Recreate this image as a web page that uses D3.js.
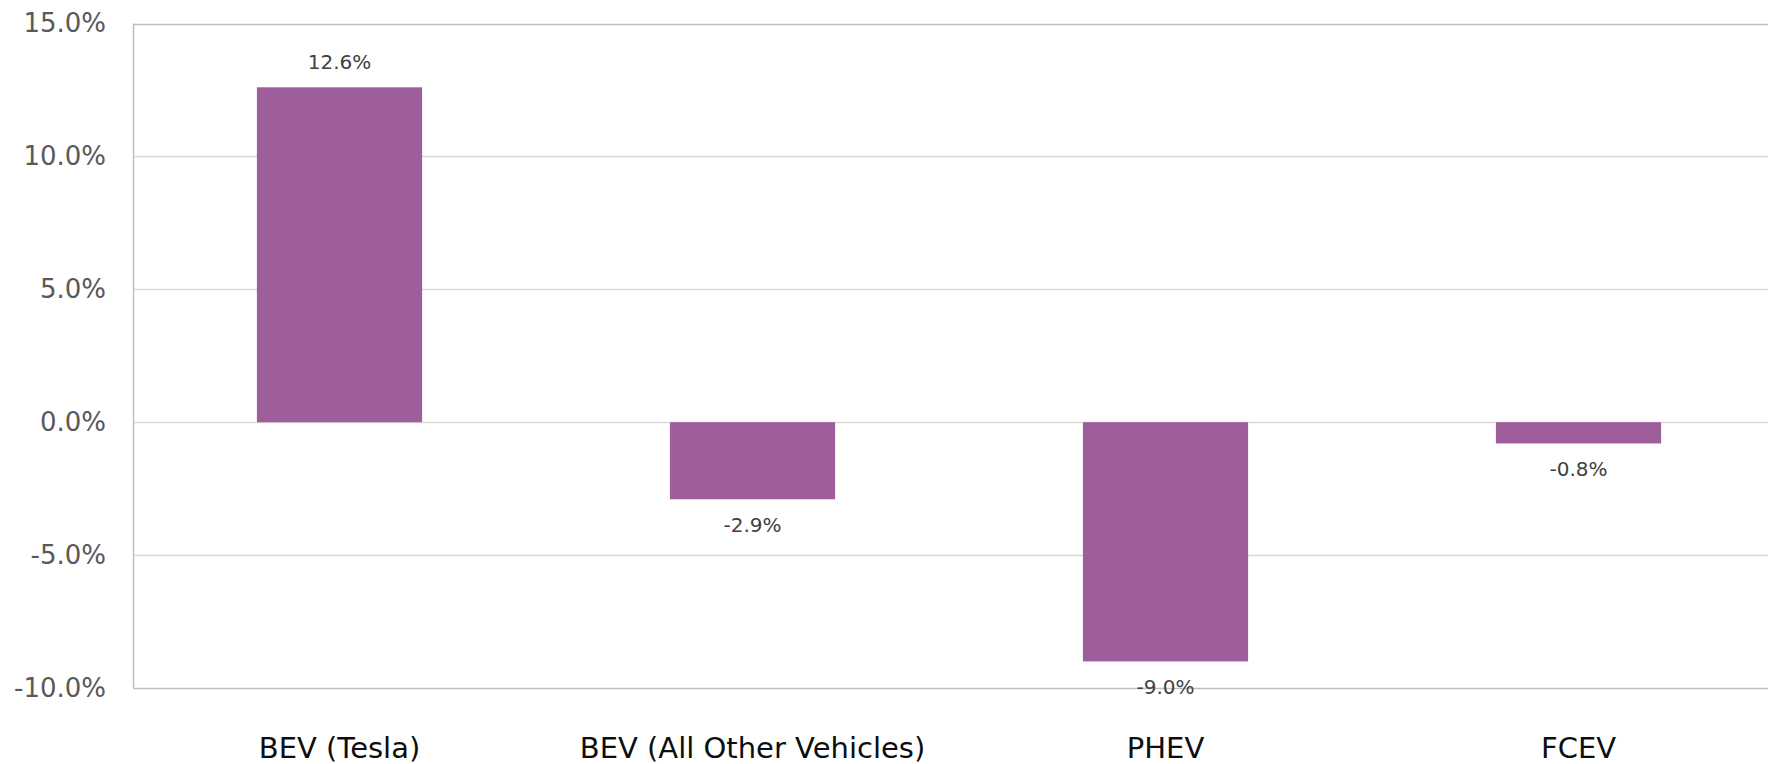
<!DOCTYPE html>
<html>
<head>
<meta charset="utf-8">
<script src="https://cdn.jsdelivr.net/npm/d3@7"></script>
<style>
  body { margin: 0; background: #fff; }
  svg { display: block; font-family: "DejaVu Sans", sans-serif; }
</style>
</head>
<body>
<svg></svg>
<script>
// Data
var categories = ["BEV (Tesla)", "BEV (All Other Vehicles)", "PHEV", "FCEV"];
var changes = [12.6, -2.9, -9.0, -0.8];
var yTicks = [15, 10, 5, 0, -5, -10];

var width = 1768;
var height = 764;

var svg = d3.select("svg")
    .attr("width", width)
    .attr("height", height)
;

// plot runs a little past the right edge of the picture, as in the source
var xScale = d3.scaleBand()
    .domain(categories)
    .range([133, 1785])
    .paddingInner(0.6)
    .paddingOuter(0.3)
;

var yScale = d3.scaleLinear()
    .domain([-10, 15])
    .range([688, 23.5])
;

// gridlines
svg.append("g")
    .selectAll("line")
    .data(yTicks)
    .enter()
    .append("line")
    .attr("x1", 133)
    .attr("x2", width)
    .attr("y1", function(d) { return Math.round(yScale(d)) + 0.5; })
    .attr("y2", function(d) { return Math.round(yScale(d)) + 0.5; })
    .attr("stroke", function(d) { return (d === 15 || d === -10) ? "#bfbfbf" : "#d9d9d9"; })
    .attr("stroke-width", 1.5)
;

// left axis line
svg.append("line")
    .attr("x1", 133.5)
    .attr("x2", 133.5)
    .attr("y1", yScale(15))
    .attr("y2", yScale(-10))
    .attr("stroke", "#bfbfbf")
    .attr("stroke-width", 1.5)
;

// y tick labels
var yAxis = d3.axisLeft(yScale)
    .tickValues(yTicks)
    .tickFormat(function(d) { return d.toFixed(1) + "%"; })
    .tickSize(0)
    .tickPadding(0)
;

var yAxisG = svg.append("g")
    .attr("transform", "translate(106,0)")
    .call(yAxis)
;
yAxisG.select(".domain").remove();
yAxisG.selectAll("text")
    .attr("font-family", "DejaVu Sans, sans-serif")
    .attr("font-size", 26)
    .attr("fill", "#595959")
;

// bars
svg.append("g")
    .selectAll("rect")
    .data(changes)
    .enter()
    .append("rect")
    .attr("x", function(d, i) { return xScale(categories[i]); })
    .attr("width", xScale.bandwidth())
    .attr("y", function(d) { return yScale(Math.max(0, d)); })
    .attr("height", function(d) { return Math.abs(yScale(d) - yScale(0)); })
    .attr("fill", "#9e5e9b")
;

// value labels
svg.append("g")
    .selectAll("text")
    .data(changes)
    .enter()
    .append("text")
    .attr("x", function(d, i) { return xScale(categories[i]) + xScale.bandwidth() / 2; })
    .attr("y", function(d) { return d >= 0 ? yScale(d) - 25 : yScale(d) + 26; })
    .attr("dy", "0.35em")
    .attr("text-anchor", "middle")
    .attr("font-size", 20)
    .attr("fill", "#404040")
    .text(function(d) { return d.toFixed(1) + "%"; })
;

// category labels
var xAxis = d3.axisBottom(xScale)
    .tickSize(0)
    .tickPadding(0)
;

var xAxisG = svg.append("g")
    .attr("transform", "translate(0,748)")
    .call(xAxis)
;
xAxisG.select(".domain").remove();
xAxisG.selectAll("text")
    .attr("dy", "0.35em")
    .attr("font-family", "DejaVu Sans, sans-serif")
    .attr("font-size", 29)
    .attr("fill", "#0d0d0d")
;
</script>
</body>
</html>
